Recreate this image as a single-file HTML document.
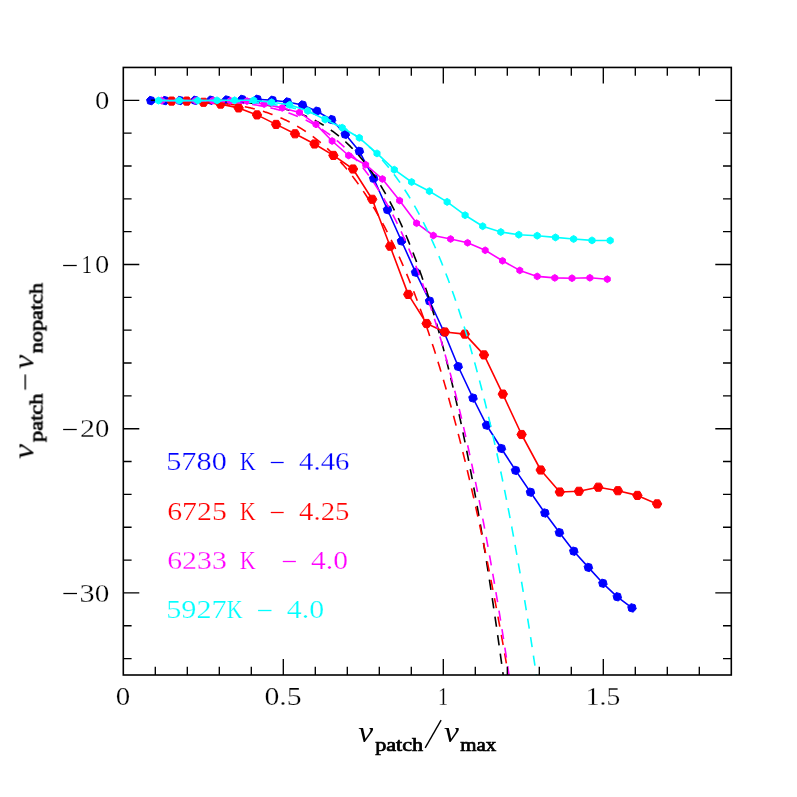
<!DOCTYPE html>
<html><head><meta charset="utf-8"><title>plot</title>
<style>
html,body{margin:0;padding:0;background:#fff;}
body{width:797px;height:797px;overflow:hidden;}
svg{display:block;}
text{font-family:"Liberation Serif",serif;}
.sans{font-family:"Liberation Sans",sans-serif;}
</style></head><body>
<svg width="797" height="797" viewBox="0 0 797 797">
<rect x="0" y="0" width="797" height="797" fill="#fff"/>
<defs><clipPath id="clip"><rect x="123.30" y="67.45" width="608.00" height="607.55"/></clipPath></defs>
<g clip-path="url(#clip)">
<polyline fill="none" stroke="#0000ff" stroke-width="1.60" stroke-linejoin="round" points="150.8,100.6 165.0,100.6 179.9,100.5 195.0,100.3 210.8,100.2 226.6,100.0 242.0,99.4 257.3,99.3 272.4,100.3 287.4,102.0 302.5,105.0 316.8,111.2 331.6,119.6 345.3,134.3 359.4,151.3 373.7,178.5 387.5,209.7 401.5,241.0 415.6,272.3 429.6,301.0 444.0,332.0 458.2,366.5 473.0,398.0 486.6,425.2 501.4,448.5 515.6,470.4 530.5,492.2 544.9,513.0 559.4,532.6 573.8,551.2 588.4,567.4 602.9,583.3 617.3,596.8 632.0,607.9"/>
<polygon fill="#0000ff" stroke="#0000ff" stroke-width="1" stroke-linejoin="round" points="155.05,101.74 151.94,104.85 147.69,103.71 146.55,99.46 149.66,96.35 153.91,97.49"/>
<polygon fill="#0000ff" stroke="#0000ff" stroke-width="1" stroke-linejoin="round" points="169.25,101.74 166.14,104.85 161.89,103.71 160.75,99.46 163.86,96.35 168.11,97.49"/>
<polygon fill="#0000ff" stroke="#0000ff" stroke-width="1" stroke-linejoin="round" points="184.15,101.64 181.04,104.75 176.79,103.61 175.65,99.36 178.76,96.25 183.01,97.39"/>
<polygon fill="#0000ff" stroke="#0000ff" stroke-width="1" stroke-linejoin="round" points="199.25,101.44 196.14,104.55 191.89,103.41 190.75,99.16 193.86,96.05 198.11,97.19"/>
<polygon fill="#0000ff" stroke="#0000ff" stroke-width="1" stroke-linejoin="round" points="215.05,101.34 211.94,104.45 207.69,103.31 206.55,99.06 209.66,95.95 213.91,97.09"/>
<polygon fill="#0000ff" stroke="#0000ff" stroke-width="1" stroke-linejoin="round" points="230.85,101.14 227.74,104.25 223.49,103.11 222.35,98.86 225.46,95.75 229.71,96.89"/>
<polygon fill="#0000ff" stroke="#0000ff" stroke-width="1" stroke-linejoin="round" points="246.25,100.54 243.14,103.65 238.89,102.51 237.75,98.26 240.86,95.15 245.11,96.29"/>
<polygon fill="#0000ff" stroke="#0000ff" stroke-width="1" stroke-linejoin="round" points="261.55,100.44 258.44,103.55 254.19,102.41 253.05,98.16 256.16,95.05 260.41,96.19"/>
<polygon fill="#0000ff" stroke="#0000ff" stroke-width="1" stroke-linejoin="round" points="276.65,101.44 273.54,104.55 269.29,103.41 268.15,99.16 271.26,96.05 275.51,97.19"/>
<polygon fill="#0000ff" stroke="#0000ff" stroke-width="1" stroke-linejoin="round" points="291.65,103.14 288.54,106.25 284.29,105.11 283.15,100.86 286.26,97.75 290.51,98.89"/>
<polygon fill="#0000ff" stroke="#0000ff" stroke-width="1" stroke-linejoin="round" points="306.75,106.14 303.64,109.25 299.39,108.11 298.25,103.86 301.36,100.75 305.61,101.89"/>
<polygon fill="#0000ff" stroke="#0000ff" stroke-width="1" stroke-linejoin="round" points="321.05,112.34 317.94,115.45 313.69,114.31 312.55,110.06 315.66,106.95 319.91,108.09"/>
<polygon fill="#0000ff" stroke="#0000ff" stroke-width="1" stroke-linejoin="round" points="335.85,120.74 332.74,123.85 328.49,122.71 327.35,118.46 330.46,115.35 334.71,116.49"/>
<polygon fill="#0000ff" stroke="#0000ff" stroke-width="1" stroke-linejoin="round" points="349.55,135.44 346.44,138.55 342.19,137.41 341.05,133.16 344.16,130.05 348.41,131.19"/>
<polygon fill="#0000ff" stroke="#0000ff" stroke-width="1" stroke-linejoin="round" points="363.65,152.44 360.54,155.55 356.29,154.41 355.15,150.16 358.26,147.05 362.51,148.19"/>
<polygon fill="#0000ff" stroke="#0000ff" stroke-width="1" stroke-linejoin="round" points="377.95,179.64 374.84,182.75 370.59,181.61 369.45,177.36 372.56,174.25 376.81,175.39"/>
<polygon fill="#0000ff" stroke="#0000ff" stroke-width="1" stroke-linejoin="round" points="391.75,210.84 388.64,213.95 384.39,212.81 383.25,208.56 386.36,205.45 390.61,206.59"/>
<polygon fill="#0000ff" stroke="#0000ff" stroke-width="1" stroke-linejoin="round" points="405.75,242.14 402.64,245.25 398.39,244.11 397.25,239.86 400.36,236.75 404.61,237.89"/>
<polygon fill="#0000ff" stroke="#0000ff" stroke-width="1" stroke-linejoin="round" points="419.85,273.44 416.74,276.55 412.49,275.41 411.35,271.16 414.46,268.05 418.71,269.19"/>
<polygon fill="#0000ff" stroke="#0000ff" stroke-width="1" stroke-linejoin="round" points="433.85,302.14 430.74,305.25 426.49,304.11 425.35,299.86 428.46,296.75 432.71,297.89"/>
<polygon fill="#0000ff" stroke="#0000ff" stroke-width="1" stroke-linejoin="round" points="448.25,333.14 445.14,336.25 440.89,335.11 439.75,330.86 442.86,327.75 447.11,328.89"/>
<polygon fill="#0000ff" stroke="#0000ff" stroke-width="1" stroke-linejoin="round" points="462.45,367.64 459.34,370.75 455.09,369.61 453.95,365.36 457.06,362.25 461.31,363.39"/>
<polygon fill="#0000ff" stroke="#0000ff" stroke-width="1" stroke-linejoin="round" points="477.25,399.14 474.14,402.25 469.89,401.11 468.75,396.86 471.86,393.75 476.11,394.89"/>
<polygon fill="#0000ff" stroke="#0000ff" stroke-width="1" stroke-linejoin="round" points="490.85,426.34 487.74,429.45 483.49,428.31 482.35,424.06 485.46,420.95 489.71,422.09"/>
<polygon fill="#0000ff" stroke="#0000ff" stroke-width="1" stroke-linejoin="round" points="505.65,449.64 502.54,452.75 498.29,451.61 497.15,447.36 500.26,444.25 504.51,445.39"/>
<polygon fill="#0000ff" stroke="#0000ff" stroke-width="1" stroke-linejoin="round" points="519.85,471.54 516.74,474.65 512.49,473.51 511.35,469.26 514.46,466.15 518.71,467.29"/>
<polygon fill="#0000ff" stroke="#0000ff" stroke-width="1" stroke-linejoin="round" points="534.75,493.34 531.64,496.45 527.39,495.31 526.25,491.06 529.36,487.95 533.61,489.09"/>
<polygon fill="#0000ff" stroke="#0000ff" stroke-width="1" stroke-linejoin="round" points="549.15,514.14 546.04,517.25 541.79,516.11 540.65,511.86 543.76,508.75 548.01,509.89"/>
<polygon fill="#0000ff" stroke="#0000ff" stroke-width="1" stroke-linejoin="round" points="563.65,533.74 560.54,536.85 556.29,535.71 555.15,531.46 558.26,528.35 562.51,529.49"/>
<polygon fill="#0000ff" stroke="#0000ff" stroke-width="1" stroke-linejoin="round" points="578.05,552.34 574.94,555.45 570.69,554.31 569.55,550.06 572.66,546.95 576.91,548.09"/>
<polygon fill="#0000ff" stroke="#0000ff" stroke-width="1" stroke-linejoin="round" points="592.65,568.54 589.54,571.65 585.29,570.51 584.15,566.26 587.26,563.15 591.51,564.29"/>
<polygon fill="#0000ff" stroke="#0000ff" stroke-width="1" stroke-linejoin="round" points="607.15,584.44 604.04,587.55 599.79,586.41 598.65,582.16 601.76,579.05 606.01,580.19"/>
<polygon fill="#0000ff" stroke="#0000ff" stroke-width="1" stroke-linejoin="round" points="621.55,597.94 618.44,601.05 614.19,599.91 613.05,595.66 616.16,592.55 620.41,593.69"/>
<polygon fill="#0000ff" stroke="#0000ff" stroke-width="1" stroke-linejoin="round" points="636.25,609.04 633.14,612.15 628.89,611.01 627.75,606.76 630.86,603.65 635.11,604.79"/>
<polyline fill="none" stroke="#000" stroke-width="1.60" stroke-dasharray="10.2 8.5" stroke-dashoffset="1.54" points="150.80,100.30 151.44,100.30 152.08,100.30 152.72,100.30 153.36,100.30 154.00,100.30 154.64,100.30 155.28,100.30 155.92,100.30 156.56,100.30 157.20,100.30 157.84,100.30 158.48,100.30 159.12,100.31 159.76,100.31 160.40,100.31 161.04,100.31 161.68,100.31 162.32,100.31 162.96,100.31 163.60,100.31 164.24,100.31 164.88,100.31 165.52,100.31 166.16,100.31 166.80,100.31 167.44,100.32 168.08,100.32 168.72,100.32 169.36,100.32 170.00,100.32 170.64,100.32 171.28,100.32 171.92,100.32 172.56,100.33 173.20,100.33 173.84,100.33 174.48,100.33 175.12,100.33 175.76,100.34 176.40,100.34 177.04,100.34 177.68,100.34 178.32,100.34 178.96,100.35 179.60,100.35 180.24,100.35 180.88,100.36 181.52,100.36 182.16,100.36 182.80,100.37 183.44,100.37 184.08,100.37 184.72,100.38 185.36,100.38 186.00,100.38 186.64,100.39 187.28,100.39 187.92,100.40 188.56,100.40 189.20,100.41 189.84,100.41 190.48,100.42 191.12,100.42 191.76,100.43 192.40,100.44 193.04,100.44 193.68,100.45 194.32,100.46 194.96,100.46 195.60,100.47 196.24,100.48 196.88,100.48 197.52,100.49 198.16,100.50 198.80,100.51 199.44,100.52 200.08,100.53 200.72,100.54 201.36,100.55 202.00,100.56 202.64,100.57 203.28,100.58 203.92,100.59 204.56,100.60 205.20,100.61 205.84,100.62 206.48,100.64 207.12,100.65 207.76,100.66 208.40,100.68 209.04,100.69 209.68,100.71 210.32,100.72 210.96,100.74 211.60,100.75 212.24,100.77 212.88,100.78 213.52,100.80 214.16,100.82 214.80,100.84 215.44,100.86 216.08,100.87 216.72,100.89 217.36,100.91 218.00,100.94 218.64,100.96 219.28,100.98 219.92,101.00 220.56,101.02 221.20,101.05 221.84,101.07 222.48,101.10 223.12,101.12 223.76,101.15 224.40,101.18 225.04,101.20 225.68,101.23 226.32,101.26 226.96,101.29 227.60,101.32 228.24,101.35 228.88,101.38 229.52,101.42 230.16,101.45 230.80,101.48 231.44,101.52 232.08,101.55 232.72,101.59 233.36,101.63 234.00,101.67 234.64,101.71 235.28,101.75 235.92,101.79 236.56,101.83 237.20,101.87 237.84,101.91 238.48,101.96 239.12,102.00 239.76,102.05 240.40,102.10 241.04,102.15 241.68,102.20 242.32,102.25 242.96,102.30 243.60,102.35 244.24,102.41 244.88,102.46 245.52,102.52 246.16,102.58 246.80,102.63 247.44,102.69 248.08,102.76 248.72,102.82 249.36,102.88 250.00,102.95 250.64,103.01 251.28,103.08 251.92,103.15 252.56,103.22 253.20,103.29 253.84,103.36 254.48,103.44 255.12,103.51 255.76,103.59 256.40,103.67 257.04,103.75 257.68,103.83 258.32,103.91 258.96,104.00 259.60,104.09 260.24,104.17 260.88,104.26 261.52,104.35 262.16,104.45 262.80,104.54 263.44,104.64 264.08,104.74 264.72,104.84 265.36,104.94 266.00,105.04 266.64,105.15 267.28,105.25 267.92,105.36 268.56,105.47 269.20,105.58 269.84,105.70 270.48,105.82 271.12,105.93 271.76,106.05 272.40,106.18 273.04,106.30 273.68,106.43 274.32,106.56 274.96,106.69 275.60,106.82 276.24,106.96 276.88,107.09 277.52,107.23 278.16,107.38 278.80,107.52 279.44,107.67 280.08,107.82 280.72,107.97 281.36,108.12 282.00,108.28 282.64,108.44 283.28,108.60 283.92,108.76 284.56,108.93 285.20,109.10 285.84,109.27 286.48,109.44 287.12,109.62 287.76,109.80 288.40,109.98 289.04,110.17 289.68,110.36 290.32,110.55 290.96,110.74 291.60,110.94 292.24,111.14 292.88,111.34 293.52,111.55 294.16,111.76 294.80,111.97 295.44,112.18 296.08,112.40 296.72,112.62 297.36,112.85 298.00,113.07 298.64,113.31 299.28,113.54 299.92,113.78 300.56,114.02 301.20,114.26 301.84,114.51 302.48,114.76 303.12,115.02 303.76,115.28 304.40,115.54 305.04,115.80 305.68,116.07 306.32,116.35 306.96,116.62 307.60,116.90 308.24,117.19 308.88,117.48 309.52,117.77 310.16,118.06 310.80,118.36 311.44,118.67 312.08,118.98 312.72,119.29 313.36,119.61 314.00,119.93 314.64,120.25 315.28,120.58 315.92,120.91 316.56,121.25 317.20,121.59 317.84,121.94 318.48,122.29 319.12,122.65 319.76,123.01 320.40,123.37 321.04,123.74 321.68,124.12 322.32,124.49 322.96,124.88 323.60,125.27 324.24,125.66 324.88,126.06 325.52,126.46 326.16,126.87 326.80,127.28 327.44,127.70 328.08,128.12 328.72,128.55 329.36,128.99 330.00,129.43 330.64,129.87 331.28,130.32 331.92,130.78 332.56,131.24 333.20,131.70 333.84,132.18 334.48,132.65 335.12,133.14 335.76,133.63 336.40,134.12 337.04,134.62 337.68,135.13 338.32,135.64 338.96,136.16 339.60,136.68 340.24,137.21 340.88,137.75 341.52,138.29 342.16,138.84 342.80,139.40 343.44,139.96 344.08,140.53 344.72,141.10 345.36,141.68 346.00,142.27 346.64,142.86 347.28,143.47 347.92,144.07 348.56,144.69 349.20,145.31 349.84,145.94 350.48,146.57 351.12,147.22 351.76,147.86 352.40,148.52 353.04,149.18 353.68,149.86 354.32,150.53 354.96,151.22 355.60,151.91 356.24,152.61 356.88,153.32 357.52,154.04 358.16,154.76 358.80,155.49 359.44,156.23 360.08,156.98 360.72,157.73 361.36,158.49 362.00,159.26 362.64,160.04 363.28,160.83 363.92,161.63 364.56,162.43 365.20,163.24 365.84,164.06 366.48,164.89 367.12,165.73 367.76,166.57 368.40,167.43 369.04,168.29 369.68,169.16 370.32,170.04 370.96,170.93 371.60,171.83 372.24,172.74 372.88,173.66 373.52,174.58 374.16,175.52 374.80,176.46 375.44,177.42 376.08,178.38 376.72,179.36 377.36,180.34 378.00,181.33 378.64,182.33 379.28,183.35 379.92,184.37 380.56,185.40 381.20,186.44 381.84,187.50 382.48,188.56 383.12,189.63 383.76,190.72 384.40,191.81 385.04,192.91 385.68,194.03 386.32,195.15 386.96,196.29 387.60,197.44 388.24,198.60 388.88,199.77 389.52,200.95 390.16,202.14 390.80,203.34 391.44,204.55 392.08,205.78 392.72,207.01 393.36,208.26 394.00,209.52 394.64,210.79 395.28,212.08 395.92,213.37 396.56,214.68 397.20,216.00 397.84,217.33 398.48,218.67 399.12,220.02 399.76,221.39 400.40,222.77 401.04,224.16 401.68,225.57 402.32,226.99 402.96,228.42 403.60,229.86 404.24,231.32 404.88,232.78 405.52,234.27 406.16,235.76 406.80,237.27 407.44,238.79 408.08,240.33 408.72,241.88 409.36,243.44 410.00,245.01 410.64,246.60 411.28,248.21 411.92,249.83 412.56,251.46 413.20,253.10 413.84,254.76 414.48,256.44 415.12,258.13 415.76,259.83 416.40,261.55 417.04,263.28 417.68,265.03 418.32,266.79 418.96,268.57 419.60,270.36 420.24,272.17 420.88,273.99 421.52,275.83 422.16,277.68 422.80,279.55 423.44,281.43 424.08,283.34 424.72,285.25 425.36,287.18 426.00,289.13 426.64,291.10 427.28,293.08 427.92,295.07 428.56,297.09 429.20,299.12 429.84,301.16 430.48,303.23 431.12,305.31 431.76,307.40 432.40,309.52 433.04,311.65 433.68,313.80 434.32,315.96 434.96,318.15 435.60,320.35 436.24,322.57 436.88,324.80 437.52,327.06 438.16,329.33 438.80,331.62 439.44,333.93 440.08,336.25 440.72,338.60 441.36,340.96 442.00,343.35 442.64,345.75 443.28,348.17 443.92,350.60 444.56,353.06 445.20,355.54 445.84,358.04 446.48,360.55 447.12,363.09 447.76,365.64 448.40,368.22 449.04,370.81 449.68,373.42 450.32,376.06 450.96,378.71 451.60,381.39 452.24,384.08 452.88,386.80 453.52,389.54 454.16,392.29 454.80,395.07 455.44,397.87 456.08,400.69 456.72,403.53 457.36,406.39 458.00,409.28 458.64,412.18 459.28,415.11 459.92,418.06 460.56,421.03 461.20,424.03 461.84,427.04 462.48,430.08 463.12,433.14 463.76,436.22 464.40,439.33 465.04,442.46 465.68,445.61 466.32,448.78 466.96,451.98 467.60,455.20 468.24,458.44 468.88,461.71 469.52,465.00 470.16,468.32 470.80,471.66 471.44,475.02 472.08,478.41 472.72,481.82 473.36,485.26 474.00,488.72 474.64,492.20 475.28,495.72 475.92,499.25 476.56,502.81 477.20,506.40 477.84,510.01 478.48,513.65 479.12,517.31 479.76,521.00 480.40,524.71 481.04,528.45 481.68,532.22 482.32,536.01 482.96,539.83 483.60,543.67 484.24,547.55 484.88,551.45 485.52,555.37 486.16,559.33 486.80,563.31 487.44,567.31 488.08,571.35 488.72,575.41 489.36,579.51 490.00,583.62 490.64,587.77 491.28,591.95 491.92,596.15 492.56,600.38 493.20,604.65 493.84,608.94 494.48,613.26 495.12,617.60 495.76,621.98 496.40,626.39 497.04,630.83 497.68,635.29 498.32,639.79 498.96,644.31 499.60,648.87 500.24,653.46 500.88,658.08 501.52,662.72 502.16,667.40 502.80,672.11 503.44,676.85 504.08,681.62 504.72,686.43 505.36,691.26 506.00,696.13 506.64,701.03 507.28,705.96 507.92,710.92"/>
<polyline fill="none" stroke="#ff0000" stroke-width="1.60" stroke-linejoin="round" points="171.6,101.1 186.7,101.1 203.5,102.3 220.6,104.1 238.6,107.9 257.0,114.9 276.1,124.4 295.0,133.8 314.5,144.0 333.4,155.4 353.0,169.0 372.2,199.3 390.1,246.2 408.2,294.4 426.6,323.5 444.9,332.0 464.8,334.1 484.0,354.9 502.8,394.1 521.6,434.5 540.7,470.0 559.8,492.0 578.9,491.3 598.3,487.2 617.9,490.7 637.4,495.4 657.1,503.9"/>
<polygon fill="#ff0000" stroke="#ff0000" stroke-width="1" stroke-linejoin="round" points="176.30,101.10 173.95,105.17 169.25,105.17 166.90,101.10 169.25,97.03 173.95,97.03"/>
<polygon fill="#ff0000" stroke="#ff0000" stroke-width="1" stroke-linejoin="round" points="191.40,101.10 189.05,105.17 184.35,105.17 182.00,101.10 184.35,97.03 189.05,97.03"/>
<polygon fill="#ff0000" stroke="#ff0000" stroke-width="1" stroke-linejoin="round" points="208.20,102.30 205.85,106.37 201.15,106.37 198.80,102.30 201.15,98.23 205.85,98.23"/>
<polygon fill="#ff0000" stroke="#ff0000" stroke-width="1" stroke-linejoin="round" points="225.30,104.10 222.95,108.17 218.25,108.17 215.90,104.10 218.25,100.03 222.95,100.03"/>
<polygon fill="#ff0000" stroke="#ff0000" stroke-width="1" stroke-linejoin="round" points="243.30,107.90 240.95,111.97 236.25,111.97 233.90,107.90 236.25,103.83 240.95,103.83"/>
<polygon fill="#ff0000" stroke="#ff0000" stroke-width="1" stroke-linejoin="round" points="261.70,114.90 259.35,118.97 254.65,118.97 252.30,114.90 254.65,110.83 259.35,110.83"/>
<polygon fill="#ff0000" stroke="#ff0000" stroke-width="1" stroke-linejoin="round" points="280.80,124.40 278.45,128.47 273.75,128.47 271.40,124.40 273.75,120.33 278.45,120.33"/>
<polygon fill="#ff0000" stroke="#ff0000" stroke-width="1" stroke-linejoin="round" points="299.70,133.80 297.35,137.87 292.65,137.87 290.30,133.80 292.65,129.73 297.35,129.73"/>
<polygon fill="#ff0000" stroke="#ff0000" stroke-width="1" stroke-linejoin="round" points="319.20,144.00 316.85,148.07 312.15,148.07 309.80,144.00 312.15,139.93 316.85,139.93"/>
<polygon fill="#ff0000" stroke="#ff0000" stroke-width="1" stroke-linejoin="round" points="338.10,155.40 335.75,159.47 331.05,159.47 328.70,155.40 331.05,151.33 335.75,151.33"/>
<polygon fill="#ff0000" stroke="#ff0000" stroke-width="1" stroke-linejoin="round" points="357.70,169.00 355.35,173.07 350.65,173.07 348.30,169.00 350.65,164.93 355.35,164.93"/>
<polygon fill="#ff0000" stroke="#ff0000" stroke-width="1" stroke-linejoin="round" points="376.90,199.30 374.55,203.37 369.85,203.37 367.50,199.30 369.85,195.23 374.55,195.23"/>
<polygon fill="#ff0000" stroke="#ff0000" stroke-width="1" stroke-linejoin="round" points="394.80,246.20 392.45,250.27 387.75,250.27 385.40,246.20 387.75,242.13 392.45,242.13"/>
<polygon fill="#ff0000" stroke="#ff0000" stroke-width="1" stroke-linejoin="round" points="412.90,294.40 410.55,298.47 405.85,298.47 403.50,294.40 405.85,290.33 410.55,290.33"/>
<polygon fill="#ff0000" stroke="#ff0000" stroke-width="1" stroke-linejoin="round" points="431.30,323.50 428.95,327.57 424.25,327.57 421.90,323.50 424.25,319.43 428.95,319.43"/>
<polygon fill="#ff0000" stroke="#ff0000" stroke-width="1" stroke-linejoin="round" points="449.60,332.00 447.25,336.07 442.55,336.07 440.20,332.00 442.55,327.93 447.25,327.93"/>
<polygon fill="#ff0000" stroke="#ff0000" stroke-width="1" stroke-linejoin="round" points="469.50,334.10 467.15,338.17 462.45,338.17 460.10,334.10 462.45,330.03 467.15,330.03"/>
<polygon fill="#ff0000" stroke="#ff0000" stroke-width="1" stroke-linejoin="round" points="488.70,354.90 486.35,358.97 481.65,358.97 479.30,354.90 481.65,350.83 486.35,350.83"/>
<polygon fill="#ff0000" stroke="#ff0000" stroke-width="1" stroke-linejoin="round" points="507.50,394.10 505.15,398.17 500.45,398.17 498.10,394.10 500.45,390.03 505.15,390.03"/>
<polygon fill="#ff0000" stroke="#ff0000" stroke-width="1" stroke-linejoin="round" points="526.30,434.50 523.95,438.57 519.25,438.57 516.90,434.50 519.25,430.43 523.95,430.43"/>
<polygon fill="#ff0000" stroke="#ff0000" stroke-width="1" stroke-linejoin="round" points="545.40,470.00 543.05,474.07 538.35,474.07 536.00,470.00 538.35,465.93 543.05,465.93"/>
<polygon fill="#ff0000" stroke="#ff0000" stroke-width="1" stroke-linejoin="round" points="564.50,492.00 562.15,496.07 557.45,496.07 555.10,492.00 557.45,487.93 562.15,487.93"/>
<polygon fill="#ff0000" stroke="#ff0000" stroke-width="1" stroke-linejoin="round" points="583.60,491.30 581.25,495.37 576.55,495.37 574.20,491.30 576.55,487.23 581.25,487.23"/>
<polygon fill="#ff0000" stroke="#ff0000" stroke-width="1" stroke-linejoin="round" points="603.00,487.20 600.65,491.27 595.95,491.27 593.60,487.20 595.95,483.13 600.65,483.13"/>
<polygon fill="#ff0000" stroke="#ff0000" stroke-width="1" stroke-linejoin="round" points="622.60,490.70 620.25,494.77 615.55,494.77 613.20,490.70 615.55,486.63 620.25,486.63"/>
<polygon fill="#ff0000" stroke="#ff0000" stroke-width="1" stroke-linejoin="round" points="642.10,495.40 639.75,499.47 635.05,499.47 632.70,495.40 635.05,491.33 639.75,491.33"/>
<polygon fill="#ff0000" stroke="#ff0000" stroke-width="1" stroke-linejoin="round" points="661.80,503.90 659.45,507.97 654.75,507.97 652.40,503.90 654.75,499.83 659.45,499.83"/>
<polyline fill="none" stroke="#ff0000" stroke-width="1.60" stroke-dasharray="10.2 8.5" stroke-dashoffset="1.21" points="171.60,100.48 172.24,100.48 172.88,100.49 173.52,100.50 174.16,100.51 174.80,100.52 175.44,100.54 176.08,100.55 176.72,100.56 177.36,100.57 178.00,100.58 178.64,100.60 179.28,100.61 179.92,100.63 180.56,100.64 181.20,100.65 181.84,100.67 182.48,100.69 183.12,100.70 183.76,100.72 184.40,100.74 185.04,100.76 185.68,100.77 186.32,100.79 186.96,100.81 187.60,100.83 188.24,100.86 188.88,100.88 189.52,100.90 190.16,100.92 190.80,100.95 191.44,100.97 192.08,100.99 192.72,101.02 193.36,101.05 194.00,101.07 194.64,101.10 195.28,101.13 195.92,101.16 196.56,101.19 197.20,101.22 197.84,101.25 198.48,101.28 199.12,101.32 199.76,101.35 200.40,101.38 201.04,101.42 201.68,101.46 202.32,101.49 202.96,101.53 203.60,101.57 204.24,101.61 204.88,101.65 205.52,101.69 206.16,101.74 206.80,101.78 207.44,101.82 208.08,101.87 208.72,101.92 209.36,101.97 210.00,102.01 210.64,102.06 211.28,102.11 211.92,102.17 212.56,102.22 213.20,102.27 213.84,102.33 214.48,102.39 215.12,102.44 215.76,102.50 216.40,102.56 217.04,102.62 217.68,102.69 218.32,102.75 218.96,102.82 219.60,102.88 220.24,102.95 220.88,103.02 221.52,103.09 222.16,103.16 222.80,103.23 223.44,103.31 224.08,103.38 224.72,103.46 225.36,103.54 226.00,103.62 226.64,103.70 227.28,103.78 227.92,103.87 228.56,103.95 229.20,104.04 229.84,104.13 230.48,104.22 231.12,104.31 231.76,104.40 232.40,104.50 233.04,104.60 233.68,104.70 234.32,104.80 234.96,104.90 235.60,105.00 236.24,105.11 236.88,105.21 237.52,105.32 238.16,105.43 238.80,105.55 239.44,105.66 240.08,105.78 240.72,105.89 241.36,106.01 242.00,106.14 242.64,106.26 243.28,106.39 243.92,106.51 244.56,106.64 245.20,106.77 245.84,106.91 246.48,107.04 247.12,107.18 247.76,107.32 248.40,107.46 249.04,107.61 249.68,107.75 250.32,107.90 250.96,108.05 251.60,108.20 252.24,108.36 252.88,108.52 253.52,108.67 254.16,108.84 254.80,109.00 255.44,109.17 256.08,109.34 256.72,109.51 257.36,109.68 258.00,109.86 258.64,110.03 259.28,110.21 259.92,110.40 260.56,110.58 261.20,110.77 261.84,110.96 262.48,111.16 263.12,111.35 263.76,111.55 264.40,111.75 265.04,111.96 265.68,112.16 266.32,112.37 266.96,112.58 267.60,112.80 268.24,113.02 268.88,113.24 269.52,113.46 270.16,113.69 270.80,113.92 271.44,114.15 272.08,114.38 272.72,114.62 273.36,114.86 274.00,115.10 274.64,115.35 275.28,115.60 275.92,115.85 276.56,116.11 277.20,116.37 277.84,116.63 278.48,116.90 279.12,117.16 279.76,117.44 280.40,117.71 281.04,117.99 281.68,118.27 282.32,118.56 282.96,118.84 283.60,119.14 284.24,119.43 284.88,119.73 285.52,120.03 286.16,120.34 286.80,120.64 287.44,120.96 288.08,121.27 288.72,121.59 289.36,121.92 290.00,122.24 290.64,122.57 291.28,122.91 291.92,123.24 292.56,123.59 293.20,123.93 293.84,124.28 294.48,124.63 295.12,124.99 295.76,125.35 296.40,125.72 297.04,126.08 297.68,126.46 298.32,126.83 298.96,127.21 299.60,127.60 300.24,127.99 300.88,128.38 301.52,128.78 302.16,129.18 302.80,129.58 303.44,129.99 304.08,130.40 304.72,130.82 305.36,131.24 306.00,131.67 306.64,132.10 307.28,132.54 307.92,132.98 308.56,133.42 309.20,133.87 309.84,134.32 310.48,134.78 311.12,135.24 311.76,135.71 312.40,136.18 313.04,136.65 313.68,137.13 314.32,137.62 314.96,138.11 315.60,138.61 316.24,139.10 316.88,139.61 317.52,140.12 318.16,140.63 318.80,141.15 319.44,141.68 320.08,142.20 320.72,142.74 321.36,143.28 322.00,143.82 322.64,144.37 323.28,144.93 323.92,145.49 324.56,146.05 325.20,146.62 325.84,147.20 326.48,147.78 327.12,148.36 327.76,148.95 328.40,149.55 329.04,150.15 329.68,150.76 330.32,151.37 330.96,151.99 331.60,152.61 332.24,153.24 332.88,153.88 333.52,154.52 334.16,155.17 334.80,155.82 335.44,156.48 336.08,157.14 336.72,157.81 337.36,158.49 338.00,159.17 338.64,159.86 339.28,160.55 339.92,161.25 340.56,161.95 341.20,162.66 341.84,163.38 342.48,164.11 343.12,164.84 343.76,165.57 344.40,166.31 345.04,167.06 345.68,167.82 346.32,168.58 346.96,169.34 347.60,170.12 348.24,170.90 348.88,171.69 349.52,172.48 350.16,173.28 350.80,174.08 351.44,174.90 352.08,175.72 352.72,176.54 353.36,177.38 354.00,178.22 354.64,179.06 355.28,179.91 355.92,180.77 356.56,181.64 357.20,182.52 357.84,183.40 358.48,184.28 359.12,185.18 359.76,186.08 360.40,186.99 361.04,187.91 361.68,188.83 362.32,189.76 362.96,190.70 363.60,191.64 364.24,192.60 364.88,193.56 365.52,194.52 366.16,195.50 366.80,196.48 367.44,197.47 368.08,198.47 368.72,199.47 369.36,200.48 370.00,201.50 370.64,202.53 371.28,203.57 371.92,204.61 372.56,205.66 373.20,206.72 373.84,207.79 374.48,208.86 375.12,209.95 375.76,211.04 376.40,212.13 377.04,213.24 377.68,214.36 378.32,215.48 378.96,216.61 379.60,217.75 380.24,218.90 380.88,220.06 381.52,221.22 382.16,222.39 382.80,223.57 383.44,224.76 384.08,225.96 384.72,227.17 385.36,228.39 386.00,229.61 386.64,230.84 387.28,232.08 387.92,233.33 388.56,234.59 389.20,235.86 389.84,237.14 390.48,238.43 391.12,239.72 391.76,241.02 392.40,242.34 393.04,243.66 393.68,244.99 394.32,246.33 394.96,247.68 395.60,249.04 396.24,250.41 396.88,251.78 397.52,253.17 398.16,254.57 398.80,255.97 399.44,257.39 400.08,258.81 400.72,260.25 401.36,261.69 402.00,263.14 402.64,264.61 403.28,266.08 403.92,267.56 404.56,269.06 405.20,270.56 405.84,272.07 406.48,273.59 407.12,275.13 407.76,276.67 408.40,278.22 409.04,279.78 409.68,281.36 410.32,282.94 410.96,284.53 411.60,286.14 412.24,287.75 412.88,289.38 413.52,291.01 414.16,292.66 414.80,294.31 415.44,295.98 416.08,297.66 416.72,299.34 417.36,301.04 418.00,302.75 418.64,304.47 419.28,306.20 419.92,307.94 420.56,309.70 421.20,311.46 421.84,313.23 422.48,315.02 423.12,316.82 423.76,318.63 424.40,320.45 425.04,322.28 425.68,324.12 426.32,325.97 426.96,327.84 427.60,329.71 428.24,331.60 428.88,333.50 429.52,335.41 430.16,337.33 430.80,339.26 431.44,341.21 432.08,343.17 432.72,345.14 433.36,347.12 434.00,349.11 434.64,351.11 435.28,353.13 435.92,355.16 436.56,357.20 437.20,359.25 437.84,361.32 438.48,363.40 439.12,365.49 439.76,367.59 440.40,369.70 441.04,371.83 441.68,373.97 442.32,376.12 442.96,378.29 443.60,380.46 444.24,382.65 444.88,384.85 445.52,387.07 446.16,389.30 446.80,391.54 447.44,393.79 448.08,396.06 448.72,398.34 449.36,400.63 450.00,402.93 450.64,405.25 451.28,407.59 451.92,409.93 452.56,412.29 453.20,414.66 453.84,417.05 454.48,419.44 455.12,421.86 455.76,424.28 456.40,426.72 457.04,429.17 457.68,431.64 458.32,434.12 458.96,436.61 459.60,439.12 460.24,441.64 460.88,444.18 461.52,446.73 462.16,449.29 462.80,451.87 463.44,454.46 464.08,457.07 464.72,459.69 465.36,462.32 466.00,464.97 466.64,467.64 467.28,470.31 467.92,473.00 468.56,475.71 469.20,478.43 469.84,481.17 470.48,483.92 471.12,486.68 471.76,489.46 472.40,492.26 473.04,495.07 473.68,497.89 474.32,500.73 474.96,503.59 475.60,506.46 476.24,509.34 476.88,512.24 477.52,515.16 478.16,518.09 478.80,521.04 479.44,524.00 480.08,526.98 480.72,529.97 481.36,532.98 482.00,536.00 482.64,539.04 483.28,542.10 483.92,545.17 484.56,548.26 485.20,551.36 485.84,554.48 486.48,557.61 487.12,560.76 487.76,563.93 488.40,567.11 489.04,570.31 489.68,573.53 490.32,576.76 490.96,580.01 491.60,583.27 492.24,586.56 492.88,589.85 493.52,593.17 494.16,596.50 494.80,599.85 495.44,603.21 496.08,606.59 496.72,609.99 497.36,613.41 498.00,616.84 498.64,620.29 499.28,623.76 499.92,627.24 500.56,630.74 501.20,634.26 501.84,637.79 502.48,641.35 503.12,644.92 503.76,648.50 504.40,652.11 505.04,655.73 505.68,659.37 506.32,663.03 506.96,666.71 507.60,670.40 508.24,674.11 508.88,677.84 509.52,681.59 510.16,685.36 510.80,689.14 511.44,692.94 512.08,696.76 512.72,700.60 513.36,704.46 514.00,708.33"/>
<polyline fill="none" stroke="#ff00ff" stroke-width="1.60" stroke-linejoin="round" points="161.6,100.6 178.6,100.6 195.6,100.6 212.8,100.6 230.4,100.8 247.0,101.1 264.1,104.1 282.2,107.9 299.5,112.4 316.0,124.4 332.1,141.0 348.6,155.5 365.7,164.7 382.4,179.0 399.6,200.6 416.6,223.2 433.3,235.5 450.6,239.0 467.6,242.8 485.2,250.3 502.5,260.8 519.8,270.4 537.2,276.4 554.8,277.9 572.0,278.2 589.9,277.8 607.3,279.2"/>
<polygon fill="#ff00ff" stroke="#ff00ff" stroke-width="1" stroke-linejoin="round" points="164.54,102.30 161.60,104.00 158.66,102.30 158.66,98.90 161.60,97.20 164.54,98.90"/>
<polygon fill="#ff00ff" stroke="#ff00ff" stroke-width="1" stroke-linejoin="round" points="181.54,102.30 178.60,104.00 175.66,102.30 175.66,98.90 178.60,97.20 181.54,98.90"/>
<polygon fill="#ff00ff" stroke="#ff00ff" stroke-width="1" stroke-linejoin="round" points="198.54,102.30 195.60,104.00 192.66,102.30 192.66,98.90 195.60,97.20 198.54,98.90"/>
<polygon fill="#ff00ff" stroke="#ff00ff" stroke-width="1" stroke-linejoin="round" points="215.74,102.30 212.80,104.00 209.86,102.30 209.86,98.90 212.80,97.20 215.74,98.90"/>
<polygon fill="#ff00ff" stroke="#ff00ff" stroke-width="1" stroke-linejoin="round" points="233.34,102.50 230.40,104.20 227.46,102.50 227.46,99.10 230.40,97.40 233.34,99.10"/>
<polygon fill="#ff00ff" stroke="#ff00ff" stroke-width="1" stroke-linejoin="round" points="249.94,102.80 247.00,104.50 244.06,102.80 244.06,99.40 247.00,97.70 249.94,99.40"/>
<polygon fill="#ff00ff" stroke="#ff00ff" stroke-width="1" stroke-linejoin="round" points="267.04,105.80 264.10,107.50 261.16,105.80 261.16,102.40 264.10,100.70 267.04,102.40"/>
<polygon fill="#ff00ff" stroke="#ff00ff" stroke-width="1" stroke-linejoin="round" points="285.14,109.60 282.20,111.30 279.26,109.60 279.26,106.20 282.20,104.50 285.14,106.20"/>
<polygon fill="#ff00ff" stroke="#ff00ff" stroke-width="1" stroke-linejoin="round" points="302.44,114.10 299.50,115.80 296.56,114.10 296.56,110.70 299.50,109.00 302.44,110.70"/>
<polygon fill="#ff00ff" stroke="#ff00ff" stroke-width="1" stroke-linejoin="round" points="318.94,126.10 316.00,127.80 313.06,126.10 313.06,122.70 316.00,121.00 318.94,122.70"/>
<polygon fill="#ff00ff" stroke="#ff00ff" stroke-width="1" stroke-linejoin="round" points="335.04,142.70 332.10,144.40 329.16,142.70 329.16,139.30 332.10,137.60 335.04,139.30"/>
<polygon fill="#ff00ff" stroke="#ff00ff" stroke-width="1" stroke-linejoin="round" points="351.54,157.20 348.60,158.90 345.66,157.20 345.66,153.80 348.60,152.10 351.54,153.80"/>
<polygon fill="#ff00ff" stroke="#ff00ff" stroke-width="1" stroke-linejoin="round" points="368.64,166.40 365.70,168.10 362.76,166.40 362.76,163.00 365.70,161.30 368.64,163.00"/>
<polygon fill="#ff00ff" stroke="#ff00ff" stroke-width="1" stroke-linejoin="round" points="385.34,180.70 382.40,182.40 379.46,180.70 379.46,177.30 382.40,175.60 385.34,177.30"/>
<polygon fill="#ff00ff" stroke="#ff00ff" stroke-width="1" stroke-linejoin="round" points="402.54,202.30 399.60,204.00 396.66,202.30 396.66,198.90 399.60,197.20 402.54,198.90"/>
<polygon fill="#ff00ff" stroke="#ff00ff" stroke-width="1" stroke-linejoin="round" points="419.54,224.90 416.60,226.60 413.66,224.90 413.66,221.50 416.60,219.80 419.54,221.50"/>
<polygon fill="#ff00ff" stroke="#ff00ff" stroke-width="1" stroke-linejoin="round" points="436.24,237.20 433.30,238.90 430.36,237.20 430.36,233.80 433.30,232.10 436.24,233.80"/>
<polygon fill="#ff00ff" stroke="#ff00ff" stroke-width="1" stroke-linejoin="round" points="453.54,240.70 450.60,242.40 447.66,240.70 447.66,237.30 450.60,235.60 453.54,237.30"/>
<polygon fill="#ff00ff" stroke="#ff00ff" stroke-width="1" stroke-linejoin="round" points="470.54,244.50 467.60,246.20 464.66,244.50 464.66,241.10 467.60,239.40 470.54,241.10"/>
<polygon fill="#ff00ff" stroke="#ff00ff" stroke-width="1" stroke-linejoin="round" points="488.14,252.00 485.20,253.70 482.26,252.00 482.26,248.60 485.20,246.90 488.14,248.60"/>
<polygon fill="#ff00ff" stroke="#ff00ff" stroke-width="1" stroke-linejoin="round" points="505.44,262.50 502.50,264.20 499.56,262.50 499.56,259.10 502.50,257.40 505.44,259.10"/>
<polygon fill="#ff00ff" stroke="#ff00ff" stroke-width="1" stroke-linejoin="round" points="522.74,272.10 519.80,273.80 516.86,272.10 516.86,268.70 519.80,267.00 522.74,268.70"/>
<polygon fill="#ff00ff" stroke="#ff00ff" stroke-width="1" stroke-linejoin="round" points="540.14,278.10 537.20,279.80 534.26,278.10 534.26,274.70 537.20,273.00 540.14,274.70"/>
<polygon fill="#ff00ff" stroke="#ff00ff" stroke-width="1" stroke-linejoin="round" points="557.74,279.60 554.80,281.30 551.86,279.60 551.86,276.20 554.80,274.50 557.74,276.20"/>
<polygon fill="#ff00ff" stroke="#ff00ff" stroke-width="1" stroke-linejoin="round" points="574.94,279.90 572.00,281.60 569.06,279.90 569.06,276.50 572.00,274.80 574.94,276.50"/>
<polygon fill="#ff00ff" stroke="#ff00ff" stroke-width="1" stroke-linejoin="round" points="592.84,279.50 589.90,281.20 586.96,279.50 586.96,276.10 589.90,274.40 592.84,276.10"/>
<polygon fill="#ff00ff" stroke="#ff00ff" stroke-width="1" stroke-linejoin="round" points="610.24,280.90 607.30,282.60 604.36,280.90 604.36,277.50 607.30,275.80 610.24,277.50"/>
<polyline fill="none" stroke="#ff00ff" stroke-width="1.60" stroke-dasharray="10.2 8.5" stroke-dashoffset="2.93" points="161.60,100.32 162.24,100.32 162.88,100.32 163.52,100.32 164.16,100.32 164.80,100.33 165.44,100.33 166.08,100.33 166.72,100.33 167.36,100.33 168.00,100.34 168.64,100.34 169.28,100.34 169.92,100.34 170.56,100.35 171.20,100.35 171.84,100.35 172.48,100.35 173.12,100.36 173.76,100.36 174.40,100.36 175.04,100.37 175.68,100.37 176.32,100.38 176.96,100.38 177.60,100.38 178.24,100.39 178.88,100.39 179.52,100.40 180.16,100.40 180.80,100.41 181.44,100.42 182.08,100.42 182.72,100.43 183.36,100.43 184.00,100.44 184.64,100.45 185.28,100.45 185.92,100.46 186.56,100.47 187.20,100.48 187.84,100.48 188.48,100.49 189.12,100.50 189.76,100.51 190.40,100.52 191.04,100.53 191.68,100.54 192.32,100.55 192.96,100.56 193.60,100.57 194.24,100.58 194.88,100.59 195.52,100.61 196.16,100.62 196.80,100.63 197.44,100.64 198.08,100.66 198.72,100.67 199.36,100.69 200.00,100.70 200.64,100.72 201.28,100.73 201.92,100.75 202.56,100.76 203.20,100.78 203.84,100.80 204.48,100.82 205.12,100.84 205.76,100.85 206.40,100.87 207.04,100.89 207.68,100.92 208.32,100.94 208.96,100.96 209.60,100.98 210.24,101.00 210.88,101.03 211.52,101.05 212.16,101.08 212.80,101.10 213.44,101.13 214.08,101.16 214.72,101.18 215.36,101.21 216.00,101.24 216.64,101.27 217.28,101.30 217.92,101.33 218.56,101.36 219.20,101.39 219.84,101.43 220.48,101.46 221.12,101.50 221.76,101.53 222.40,101.57 223.04,101.61 223.68,101.64 224.32,101.68 224.96,101.72 225.60,101.76 226.24,101.81 226.88,101.85 227.52,101.89 228.16,101.94 228.80,101.98 229.44,102.03 230.08,102.08 230.72,102.12 231.36,102.17 232.00,102.22 232.64,102.28 233.28,102.33 233.92,102.38 234.56,102.44 235.20,102.49 235.84,102.55 236.48,102.61 237.12,102.67 237.76,102.73 238.40,102.79 239.04,102.85 239.68,102.92 240.32,102.98 240.96,103.05 241.60,103.12 242.24,103.19 242.88,103.26 243.52,103.33 244.16,103.40 244.80,103.48 245.44,103.55 246.08,103.63 246.72,103.71 247.36,103.79 248.00,103.87 248.64,103.95 249.28,104.04 249.92,104.12 250.56,104.21 251.20,104.30 251.84,104.39 252.48,104.48 253.12,104.58 253.76,104.67 254.40,104.77 255.04,104.87 255.68,104.97 256.32,105.07 256.96,105.18 257.60,105.28 258.24,105.39 258.88,105.50 259.52,105.61 260.16,105.73 260.80,105.84 261.44,105.96 262.08,106.08 262.72,106.20 263.36,106.32 264.00,106.44 264.64,106.57 265.28,106.70 265.92,106.83 266.56,106.96 267.20,107.10 267.84,107.24 268.48,107.38 269.12,107.52 269.76,107.66 270.40,107.81 271.04,107.95 271.68,108.10 272.32,108.26 272.96,108.41 273.60,108.57 274.24,108.73 274.88,108.89 275.52,109.06 276.16,109.22 276.80,109.39 277.44,109.56 278.08,109.74 278.72,109.92 279.36,110.09 280.00,110.28 280.64,110.46 281.28,110.65 281.92,110.84 282.56,111.03 283.20,111.23 283.84,111.42 284.48,111.63 285.12,111.83 285.76,112.04 286.40,112.25 287.04,112.46 287.68,112.67 288.32,112.89 288.96,113.11 289.60,113.34 290.24,113.56 290.88,113.80 291.52,114.03 292.16,114.27 292.80,114.50 293.44,114.75 294.08,114.99 294.72,115.24 295.36,115.50 296.00,115.75 296.64,116.01 297.28,116.27 297.92,116.54 298.56,116.81 299.20,117.08 299.84,117.36 300.48,117.64 301.12,117.92 301.76,118.21 302.40,118.50 303.04,118.80 303.68,119.09 304.32,119.40 304.96,119.70 305.60,120.01 306.24,120.32 306.88,120.64 307.52,120.96 308.16,121.29 308.80,121.62 309.44,121.95 310.08,122.29 310.72,122.63 311.36,122.97 312.00,123.32 312.64,123.68 313.28,124.03 313.92,124.40 314.56,124.76 315.20,125.13 315.84,125.51 316.48,125.89 317.12,126.27 317.76,126.66 318.40,127.05 319.04,127.45 319.68,127.85 320.32,128.26 320.96,128.67 321.60,129.08 322.24,129.50 322.88,129.93 323.52,130.36 324.16,130.79 324.80,131.23 325.44,131.68 326.08,132.13 326.72,132.58 327.36,133.04 328.00,133.51 328.64,133.97 329.28,134.45 329.92,134.93 330.56,135.42 331.20,135.91 331.84,136.40 332.48,136.90 333.12,137.41 333.76,137.92 334.40,138.44 335.04,138.96 335.68,139.49 336.32,140.03 336.96,140.57 337.60,141.11 338.24,141.66 338.88,142.22 339.52,142.78 340.16,143.35 340.80,143.93 341.44,144.51 342.08,145.09 342.72,145.69 343.36,146.28 344.00,146.89 344.64,147.50 345.28,148.12 345.92,148.74 346.56,149.37 347.20,150.01 347.84,150.65 348.48,151.30 349.12,151.95 349.76,152.62 350.40,153.28 351.04,153.96 351.68,154.64 352.32,155.33 352.96,156.03 353.60,156.73 354.24,157.44 354.88,158.15 355.52,158.88 356.16,159.61 356.80,160.34 357.44,161.09 358.08,161.84 358.72,162.60 359.36,163.36 360.00,164.14 360.64,164.92 361.28,165.70 361.92,166.50 362.56,167.30 363.20,168.11 363.84,168.93 364.48,169.76 365.12,170.59 365.76,171.43 366.40,172.28 367.04,173.14 367.68,174.00 368.32,174.87 368.96,175.75 369.60,176.64 370.24,177.54 370.88,178.44 371.52,179.36 372.16,180.28 372.80,181.21 373.44,182.15 374.08,183.09 374.72,184.05 375.36,185.01 376.00,185.98 376.64,186.96 377.28,187.95 377.92,188.95 378.56,189.96 379.20,190.98 379.84,192.00 380.48,193.03 381.12,194.08 381.76,195.13 382.40,196.19 383.04,197.26 383.68,198.34 384.32,199.43 384.96,200.53 385.60,201.64 386.24,202.75 386.88,203.88 387.52,205.02 388.16,206.16 388.80,207.32 389.44,208.49 390.08,209.66 390.72,210.85 391.36,212.04 392.00,213.25 392.64,214.46 393.28,215.69 393.92,216.93 394.56,218.17 395.20,219.43 395.84,220.70 396.48,221.97 397.12,223.26 397.76,224.56 398.40,225.87 399.04,227.19 399.68,228.52 400.32,229.86 400.96,231.21 401.60,232.58 402.24,233.95 402.88,235.34 403.52,236.73 404.16,238.14 404.80,239.56 405.44,240.99 406.08,242.43 406.72,243.89 407.36,245.35 408.00,246.83 408.64,248.32 409.28,249.82 409.92,251.33 410.56,252.85 411.20,254.39 411.84,255.93 412.48,257.49 413.12,259.06 413.76,260.65 414.40,262.24 415.04,263.85 415.68,265.47 416.32,267.11 416.96,268.75 417.60,270.41 418.24,272.08 418.88,273.77 419.52,275.46 420.16,277.17 420.80,278.89 421.44,280.63 422.08,282.38 422.72,284.14 423.36,285.91 424.00,287.70 424.64,289.50 425.28,291.32 425.92,293.15 426.56,294.99 427.20,296.85 427.84,298.72 428.48,300.60 429.12,302.50 429.76,304.41 430.40,306.33 431.04,308.27 431.68,310.22 432.32,312.19 432.96,314.17 433.60,316.17 434.24,318.18 434.88,320.21 435.52,322.25 436.16,324.30 436.80,326.37 437.44,328.45 438.08,330.55 438.72,332.67 439.36,334.80 440.00,336.94 440.64,339.10 441.28,341.28 441.92,343.47 442.56,345.67 443.20,347.89 443.84,350.13 444.48,352.38 445.12,354.65 445.76,356.94 446.40,359.24 447.04,361.55 447.68,363.88 448.32,366.23 448.96,368.60 449.60,370.98 450.24,373.37 450.88,375.79 451.52,378.22 452.16,380.67 452.80,383.13 453.44,385.61 454.08,388.11 454.72,390.62 455.36,393.15 456.00,395.70 456.64,398.27 457.28,400.85 457.92,403.45 458.56,406.07 459.20,408.70 459.84,411.36 460.48,414.03 461.12,416.72 461.76,419.42 462.40,422.15 463.04,424.89 463.68,427.65 464.32,430.43 464.96,433.23 465.60,436.04 466.24,438.88 466.88,441.73 467.52,444.60 468.16,447.49 468.80,450.40 469.44,453.33 470.08,456.27 470.72,459.24 471.36,462.23 472.00,465.23 472.64,468.25 473.28,471.30 473.92,474.36 474.56,477.44 475.20,480.54 475.84,483.67 476.48,486.81 477.12,489.97 477.76,493.15 478.40,496.35 479.04,499.58 479.68,502.82 480.32,506.08 480.96,509.36 481.60,512.67 482.24,515.99 482.88,519.34 483.52,522.71 484.16,526.09 484.80,529.50 485.44,532.93 486.08,536.38 486.72,539.86 487.36,543.35 488.00,546.87 488.64,550.40 489.28,553.96 489.92,557.54 490.56,561.15 491.20,564.77 491.84,568.42 492.48,572.09 493.12,575.78 493.76,579.49 494.40,583.23 495.04,586.99 495.68,590.77 496.32,594.58 496.96,598.40 497.60,602.25 498.24,606.13 498.88,610.03 499.52,613.95 500.16,617.89 500.80,621.86 501.44,625.85 502.08,629.86 502.72,633.90 503.36,637.96 504.00,642.05 504.64,646.16 505.28,650.29 505.92,654.45 506.56,658.64 507.20,662.84 507.84,667.08 508.48,671.33 509.12,675.62 509.76,679.92 510.40,684.26 511.04,688.61 511.68,692.99 512.32,697.40 512.96,701.84 513.60,706.29 514.24,710.78"/>
<polyline fill="none" stroke="#00ffff" stroke-width="1.60" stroke-linejoin="round" points="158.5,100.6 179.2,100.6 197.7,100.6 217.0,100.4 234.6,100.3 253.7,100.3 271.6,102.3 289.7,104.8 307.8,110.9 325.1,119.5 342.2,127.7 359.3,137.8 377.0,153.4 394.3,169.7 411.6,182.0 429.4,191.2 447.1,201.9 465.1,215.2 482.7,226.2 500.8,232.0 518.8,234.7 537.2,235.7 555.5,237.4 573.6,239.0 592.0,240.4 610.2,240.5"/>
<polygon fill="#00ffff" stroke="#00ffff" stroke-width="1" stroke-linejoin="round" points="161.53,102.35 158.50,104.10 155.47,102.35 155.47,98.85 158.50,97.10 161.53,98.85"/>
<polygon fill="#00ffff" stroke="#00ffff" stroke-width="1" stroke-linejoin="round" points="182.23,102.35 179.20,104.10 176.17,102.35 176.17,98.85 179.20,97.10 182.23,98.85"/>
<polygon fill="#00ffff" stroke="#00ffff" stroke-width="1" stroke-linejoin="round" points="200.73,102.35 197.70,104.10 194.67,102.35 194.67,98.85 197.70,97.10 200.73,98.85"/>
<polygon fill="#00ffff" stroke="#00ffff" stroke-width="1" stroke-linejoin="round" points="220.03,102.15 217.00,103.90 213.97,102.15 213.97,98.65 217.00,96.90 220.03,98.65"/>
<polygon fill="#00ffff" stroke="#00ffff" stroke-width="1" stroke-linejoin="round" points="237.63,102.05 234.60,103.80 231.57,102.05 231.57,98.55 234.60,96.80 237.63,98.55"/>
<polygon fill="#00ffff" stroke="#00ffff" stroke-width="1" stroke-linejoin="round" points="256.73,102.05 253.70,103.80 250.67,102.05 250.67,98.55 253.70,96.80 256.73,98.55"/>
<polygon fill="#00ffff" stroke="#00ffff" stroke-width="1" stroke-linejoin="round" points="274.63,104.05 271.60,105.80 268.57,104.05 268.57,100.55 271.60,98.80 274.63,100.55"/>
<polygon fill="#00ffff" stroke="#00ffff" stroke-width="1" stroke-linejoin="round" points="292.73,106.55 289.70,108.30 286.67,106.55 286.67,103.05 289.70,101.30 292.73,103.05"/>
<polygon fill="#00ffff" stroke="#00ffff" stroke-width="1" stroke-linejoin="round" points="310.83,112.65 307.80,114.40 304.77,112.65 304.77,109.15 307.80,107.40 310.83,109.15"/>
<polygon fill="#00ffff" stroke="#00ffff" stroke-width="1" stroke-linejoin="round" points="328.13,121.25 325.10,123.00 322.07,121.25 322.07,117.75 325.10,116.00 328.13,117.75"/>
<polygon fill="#00ffff" stroke="#00ffff" stroke-width="1" stroke-linejoin="round" points="345.23,129.45 342.20,131.20 339.17,129.45 339.17,125.95 342.20,124.20 345.23,125.95"/>
<polygon fill="#00ffff" stroke="#00ffff" stroke-width="1" stroke-linejoin="round" points="362.33,139.55 359.30,141.30 356.27,139.55 356.27,136.05 359.30,134.30 362.33,136.05"/>
<polygon fill="#00ffff" stroke="#00ffff" stroke-width="1" stroke-linejoin="round" points="380.03,155.15 377.00,156.90 373.97,155.15 373.97,151.65 377.00,149.90 380.03,151.65"/>
<polygon fill="#00ffff" stroke="#00ffff" stroke-width="1" stroke-linejoin="round" points="397.33,171.45 394.30,173.20 391.27,171.45 391.27,167.95 394.30,166.20 397.33,167.95"/>
<polygon fill="#00ffff" stroke="#00ffff" stroke-width="1" stroke-linejoin="round" points="414.63,183.75 411.60,185.50 408.57,183.75 408.57,180.25 411.60,178.50 414.63,180.25"/>
<polygon fill="#00ffff" stroke="#00ffff" stroke-width="1" stroke-linejoin="round" points="432.43,192.95 429.40,194.70 426.37,192.95 426.37,189.45 429.40,187.70 432.43,189.45"/>
<polygon fill="#00ffff" stroke="#00ffff" stroke-width="1" stroke-linejoin="round" points="450.13,203.65 447.10,205.40 444.07,203.65 444.07,200.15 447.10,198.40 450.13,200.15"/>
<polygon fill="#00ffff" stroke="#00ffff" stroke-width="1" stroke-linejoin="round" points="468.13,216.95 465.10,218.70 462.07,216.95 462.07,213.45 465.10,211.70 468.13,213.45"/>
<polygon fill="#00ffff" stroke="#00ffff" stroke-width="1" stroke-linejoin="round" points="485.73,227.95 482.70,229.70 479.67,227.95 479.67,224.45 482.70,222.70 485.73,224.45"/>
<polygon fill="#00ffff" stroke="#00ffff" stroke-width="1" stroke-linejoin="round" points="503.83,233.75 500.80,235.50 497.77,233.75 497.77,230.25 500.80,228.50 503.83,230.25"/>
<polygon fill="#00ffff" stroke="#00ffff" stroke-width="1" stroke-linejoin="round" points="521.83,236.45 518.80,238.20 515.77,236.45 515.77,232.95 518.80,231.20 521.83,232.95"/>
<polygon fill="#00ffff" stroke="#00ffff" stroke-width="1" stroke-linejoin="round" points="540.23,237.45 537.20,239.20 534.17,237.45 534.17,233.95 537.20,232.20 540.23,233.95"/>
<polygon fill="#00ffff" stroke="#00ffff" stroke-width="1" stroke-linejoin="round" points="558.53,239.15 555.50,240.90 552.47,239.15 552.47,235.65 555.50,233.90 558.53,235.65"/>
<polygon fill="#00ffff" stroke="#00ffff" stroke-width="1" stroke-linejoin="round" points="576.63,240.75 573.60,242.50 570.57,240.75 570.57,237.25 573.60,235.50 576.63,237.25"/>
<polygon fill="#00ffff" stroke="#00ffff" stroke-width="1" stroke-linejoin="round" points="595.03,242.15 592.00,243.90 588.97,242.15 588.97,238.65 592.00,236.90 595.03,238.65"/>
<polygon fill="#00ffff" stroke="#00ffff" stroke-width="1" stroke-linejoin="round" points="613.23,242.25 610.20,244.00 607.17,242.25 607.17,238.75 610.20,237.00 613.23,238.75"/>
<polyline fill="none" stroke="#00ffff" stroke-width="1.60" stroke-dasharray="10.2 8.5" stroke-dashoffset="3.11" points="158.50,100.30 159.14,100.30 159.78,100.30 160.42,100.30 161.06,100.31 161.70,100.31 162.34,100.31 162.98,100.31 163.62,100.31 164.26,100.31 164.90,100.31 165.54,100.31 166.18,100.31 166.82,100.31 167.46,100.31 168.10,100.31 168.74,100.31 169.38,100.31 170.02,100.31 170.66,100.32 171.30,100.32 171.94,100.32 172.58,100.32 173.22,100.32 173.86,100.32 174.50,100.32 175.14,100.32 175.78,100.33 176.42,100.33 177.06,100.33 177.70,100.33 178.34,100.33 178.98,100.33 179.62,100.34 180.26,100.34 180.90,100.34 181.54,100.34 182.18,100.35 182.82,100.35 183.46,100.35 184.10,100.35 184.74,100.36 185.38,100.36 186.02,100.36 186.66,100.36 187.30,100.37 187.94,100.37 188.58,100.37 189.22,100.38 189.86,100.38 190.50,100.39 191.14,100.39 191.78,100.39 192.42,100.40 193.06,100.40 193.70,100.41 194.34,100.41 194.98,100.42 195.62,100.42 196.26,100.43 196.90,100.43 197.54,100.44 198.18,100.45 198.82,100.45 199.46,100.46 200.10,100.46 200.74,100.47 201.38,100.48 202.02,100.49 202.66,100.49 203.30,100.50 203.94,100.51 204.58,100.52 205.22,100.52 205.86,100.53 206.50,100.54 207.14,100.55 207.78,100.56 208.42,100.57 209.06,100.58 209.70,100.59 210.34,100.60 210.98,100.61 211.62,100.62 212.26,100.64 212.90,100.65 213.54,100.66 214.18,100.67 214.82,100.68 215.46,100.70 216.10,100.71 216.74,100.73 217.38,100.74 218.02,100.75 218.66,100.77 219.30,100.79 219.94,100.80 220.58,100.82 221.22,100.83 221.86,100.85 222.50,100.87 223.14,100.89 223.78,100.91 224.42,100.92 225.06,100.94 225.70,100.96 226.34,100.98 226.98,101.00 227.62,101.03 228.26,101.05 228.90,101.07 229.54,101.09 230.18,101.12 230.82,101.14 231.46,101.17 232.10,101.19 232.74,101.22 233.38,101.24 234.02,101.27 234.66,101.30 235.30,101.32 235.94,101.35 236.58,101.38 237.22,101.41 237.86,101.44 238.50,101.47 239.14,101.51 239.78,101.54 240.42,101.57 241.06,101.61 241.70,101.64 242.34,101.68 242.98,101.71 243.62,101.75 244.26,101.79 244.90,101.83 245.54,101.87 246.18,101.91 246.82,101.95 247.46,101.99 248.10,102.03 248.74,102.08 249.38,102.12 250.02,102.16 250.66,102.21 251.30,102.26 251.94,102.31 252.58,102.35 253.22,102.40 253.86,102.46 254.50,102.51 255.14,102.56 255.78,102.61 256.42,102.67 257.06,102.72 257.70,102.78 258.34,102.84 258.98,102.90 259.62,102.96 260.26,103.02 260.90,103.08 261.54,103.14 262.18,103.21 262.82,103.27 263.46,103.34 264.10,103.41 264.74,103.48 265.38,103.55 266.02,103.62 266.66,103.69 267.30,103.77 267.94,103.84 268.58,103.92 269.22,104.00 269.86,104.08 270.50,104.16 271.14,104.24 271.78,104.32 272.42,104.41 273.06,104.49 273.70,104.58 274.34,104.67 274.98,104.76 275.62,104.85 276.26,104.95 276.90,105.04 277.54,105.14 278.18,105.24 278.82,105.34 279.46,105.44 280.10,105.54 280.74,105.64 281.38,105.75 282.02,105.86 282.66,105.97 283.30,106.08 283.94,106.19 284.58,106.31 285.22,106.42 285.86,106.54 286.50,106.66 287.14,106.78 287.78,106.91 288.42,107.03 289.06,107.16 289.70,107.29 290.34,107.42 290.98,107.55 291.62,107.69 292.26,107.83 292.90,107.97 293.54,108.11 294.18,108.25 294.82,108.40 295.46,108.54 296.10,108.69 296.74,108.85 297.38,109.00 298.02,109.16 298.66,109.31 299.30,109.47 299.94,109.64 300.58,109.80 301.22,109.97 301.86,110.14 302.50,110.31 303.14,110.49 303.78,110.66 304.42,110.84 305.06,111.03 305.70,111.21 306.34,111.40 306.98,111.59 307.62,111.78 308.26,111.97 308.90,112.17 309.54,112.37 310.18,112.57 310.82,112.78 311.46,112.99 312.10,113.20 312.74,113.41 313.38,113.63 314.02,113.85 314.66,114.07 315.30,114.29 315.94,114.52 316.58,114.75 317.22,114.98 317.86,115.22 318.50,115.46 319.14,115.70 319.78,115.95 320.42,116.20 321.06,116.45 321.70,116.70 322.34,116.96 322.98,117.22 323.62,117.49 324.26,117.76 324.90,118.03 325.54,118.30 326.18,118.58 326.82,118.86 327.46,119.15 328.10,119.43 328.74,119.73 329.38,120.02 330.02,120.32 330.66,120.62 331.30,120.93 331.94,121.24 332.58,121.55 333.22,121.87 333.86,122.19 334.50,122.51 335.14,122.84 335.78,123.17 336.42,123.51 337.06,123.85 337.70,124.19 338.34,124.54 338.98,124.89 339.62,125.25 340.26,125.61 340.90,125.97 341.54,126.34 342.18,126.72 342.82,127.09 343.46,127.47 344.10,127.86 344.74,128.25 345.38,128.64 346.02,129.04 346.66,129.44 347.30,129.85 347.94,130.26 348.58,130.68 349.22,131.10 349.86,131.52 350.50,131.95 351.14,132.39 351.78,132.83 352.42,133.27 353.06,133.72 353.70,134.18 354.34,134.64 354.98,135.10 355.62,135.57 356.26,136.04 356.90,136.52 357.54,137.00 358.18,137.49 358.82,137.99 359.46,138.49 360.10,138.99 360.74,139.50 361.38,140.02 362.02,140.54 362.66,141.06 363.30,141.59 363.94,142.13 364.58,142.67 365.22,143.22 365.86,143.77 366.50,144.33 367.14,144.90 367.78,145.47 368.42,146.05 369.06,146.63 369.70,147.22 370.34,147.81 370.98,148.41 371.62,149.02 372.26,149.63 372.90,150.25 373.54,150.87 374.18,151.50 374.82,152.14 375.46,152.78 376.10,153.43 376.74,154.08 377.38,154.75 378.02,155.41 378.66,156.09 379.30,156.77 379.94,157.46 380.58,158.15 381.22,158.86 381.86,159.56 382.50,160.28 383.14,161.00 383.78,161.73 384.42,162.46 385.06,163.21 385.70,163.96 386.34,164.71 386.98,165.48 387.62,166.25 388.26,167.02 388.90,167.81 389.54,168.60 390.18,169.40 390.82,170.21 391.46,171.02 392.10,171.85 392.74,172.68 393.38,173.51 394.02,174.36 394.66,175.21 395.30,176.07 395.94,176.94 396.58,177.82 397.22,178.70 397.86,179.60 398.50,180.50 399.14,181.41 399.78,182.32 400.42,183.25 401.06,184.18 401.70,185.12 402.34,186.07 402.98,187.03 403.62,188.00 404.26,188.97 404.90,189.96 405.54,190.95 406.18,191.95 406.82,192.96 407.46,193.98 408.10,195.01 408.74,196.04 409.38,197.09 410.02,198.14 410.66,199.21 411.30,200.28 411.94,201.36 412.58,202.45 413.22,203.55 413.86,204.67 414.50,205.78 415.14,206.91 415.78,208.05 416.42,209.20 417.06,210.36 417.70,211.53 418.34,212.70 418.98,213.89 419.62,215.09 420.26,216.30 420.90,217.51 421.54,218.74 422.18,219.98 422.82,221.23 423.46,222.49 424.10,223.76 424.74,225.03 425.38,226.32 426.02,227.62 426.66,228.94 427.30,230.26 427.94,231.59 428.58,232.93 429.22,234.29 429.86,235.65 430.50,237.03 431.14,238.41 431.78,239.81 432.42,241.22 433.06,242.64 433.70,244.07 434.34,245.52 434.98,246.97 435.62,248.44 436.26,249.92 436.90,251.41 437.54,252.91 438.18,254.42 438.82,255.95 439.46,257.48 440.10,259.03 440.74,260.60 441.38,262.17 442.02,263.75 442.66,265.35 443.30,266.96 443.94,268.59 444.58,270.22 445.22,271.87 445.86,273.53 446.50,275.20 447.14,276.89 447.78,278.59 448.42,280.30 449.06,282.03 449.70,283.76 450.34,285.51 450.98,287.28 451.62,289.06 452.26,290.85 452.90,292.65 453.54,294.47 454.18,296.30 454.82,298.15 455.46,300.01 456.10,301.88 456.74,303.77 457.38,305.67 458.02,307.58 458.66,309.51 459.30,311.46 459.94,313.42 460.58,315.39 461.22,317.37 461.86,319.38 462.50,321.39 463.14,323.42 463.78,325.47 464.42,327.53 465.06,329.60 465.70,331.69 466.34,333.80 466.98,335.92 467.62,338.05 468.26,340.21 468.90,342.37 469.54,344.55 470.18,346.75 470.82,348.96 471.46,351.19 472.10,353.44 472.74,355.70 473.38,357.98 474.02,360.27 474.66,362.58 475.30,364.90 475.94,367.24 476.58,369.60 477.22,371.98 477.86,374.37 478.50,376.77 479.14,379.20 479.78,381.64 480.42,384.10 481.06,386.57 481.70,389.07 482.34,391.58 482.98,394.10 483.62,396.65 484.26,399.21 484.90,401.79 485.54,404.38 486.18,407.00 486.82,409.63 487.46,412.28 488.10,414.95 488.74,417.64 489.38,420.34 490.02,423.06 490.66,425.80 491.30,428.56 491.94,431.34 492.58,434.14 493.22,436.95 493.86,439.79 494.50,442.64 495.14,445.51 495.78,448.41 496.42,451.32 497.06,454.25 497.70,457.20 498.34,460.16 498.98,463.15 499.62,466.16 500.26,469.19 500.90,472.23 501.54,475.30 502.18,478.39 502.82,481.50 503.46,484.63 504.10,487.77 504.74,490.94 505.38,494.13 506.02,497.34 506.66,500.57 507.30,503.82 507.94,507.10 508.58,510.39 509.22,513.70 509.86,517.04 510.50,520.40 511.14,523.77 511.78,527.17 512.42,530.60 513.06,534.04 513.70,537.50 514.34,540.99 514.98,544.50 515.62,548.03 516.26,551.59 516.90,555.16 517.54,558.76 518.18,562.38 518.82,566.02 519.46,569.69 520.10,573.38 520.74,577.09 521.38,580.83 522.02,584.59 522.66,588.37 523.30,592.17 523.94,596.00 524.58,599.85 525.22,603.73 525.86,607.63 526.50,611.55 527.14,615.50 527.78,619.47 528.42,623.47 529.06,627.49 529.70,631.54 530.34,635.61 530.98,639.70 531.62,643.82 532.26,647.96 532.90,652.13 533.54,656.33 534.18,660.55 534.82,664.79 535.46,669.06 536.10,673.36 536.74,677.68 537.38,682.03 538.02,686.40 538.66,690.80 539.30,695.23 539.94,699.68 540.58,704.16 541.22,708.66"/>
</g>
<g stroke="#000" stroke-width="1.6" fill="none" stroke-linecap="butt">
<rect x="123.30" y="67.45" width="608.00" height="607.55"/>
<path stroke-width="1.35" d="M155.30 67.45v8.30 M155.30 675.00v-8.30 M187.30 67.45v8.30 M187.30 675.00v-8.30 M219.30 67.45v8.30 M219.30 675.00v-8.30 M251.30 67.45v8.30 M251.30 675.00v-8.30 M283.30 67.45v16.00 M283.30 675.00v-16.00 M315.30 67.45v8.30 M315.30 675.00v-8.30 M347.30 67.45v8.30 M347.30 675.00v-8.30 M379.30 67.45v8.30 M379.30 675.00v-8.30 M411.30 67.45v8.30 M411.30 675.00v-8.30 M443.30 67.45v16.00 M443.30 675.00v-16.00 M475.30 67.45v8.30 M475.30 675.00v-8.30 M507.30 67.45v8.30 M507.30 675.00v-8.30 M539.30 67.45v8.30 M539.30 675.00v-8.30 M571.30 67.45v8.30 M571.30 675.00v-8.30 M603.30 67.45v16.00 M603.30 675.00v-16.00 M635.30 67.45v8.30 M635.30 675.00v-8.30 M667.30 67.45v8.30 M667.30 675.00v-8.30 M699.30 67.45v8.30 M699.30 675.00v-8.30 M123.30 100.30h16.00 M731.30 100.30h-16.00 M123.30 133.14h8.30 M731.30 133.14h-8.30 M123.30 165.98h8.30 M731.30 165.98h-8.30 M123.30 198.82h8.30 M731.30 198.82h-8.30 M123.30 231.66h8.30 M731.30 231.66h-8.30 M123.30 264.50h16.00 M731.30 264.50h-16.00 M123.30 297.34h8.30 M731.30 297.34h-8.30 M123.30 330.18h8.30 M731.30 330.18h-8.30 M123.30 363.02h8.30 M731.30 363.02h-8.30 M123.30 395.86h8.30 M731.30 395.86h-8.30 M123.30 428.70h16.00 M731.30 428.70h-16.00 M123.30 461.54h8.30 M731.30 461.54h-8.30 M123.30 494.38h8.30 M731.30 494.38h-8.30 M123.30 527.22h8.30 M731.30 527.22h-8.30 M123.30 560.06h8.30 M731.30 560.06h-8.30 M123.30 592.90h16.00 M731.30 592.90h-16.00 M123.30 625.74h8.30 M731.30 625.74h-8.30 M123.30 658.58h8.30 M731.30 658.58h-8.30"/>
</g>
<g opacity="0.999">
<text transform="translate(115.86,705.30) scale(1.131,1)" font-size="25.6" fill="#000" font-weight="normal" font-style="normal" stroke="#fff" stroke-width="0.25">0</text>
<text transform="translate(264.43,705.30) scale(1.163,1)" font-size="25.6" fill="#000" font-weight="normal" font-style="normal" stroke="#fff" stroke-width="0.25">0.5</text>
<text transform="translate(437.95,705.30) scale(0.798,1)" font-size="25.6" fill="#000" font-weight="normal" font-style="normal" stroke="#fff" stroke-width="0.25">1</text>
<text transform="translate(585.77,705.30) scale(1.078,1)" font-size="25.6" fill="#000" font-weight="normal" font-style="normal" stroke="#fff" stroke-width="0.25">1.5</text>
<text transform="translate(94.96,109.00) scale(1.123,1)" font-size="25.6" fill="#000" font-weight="normal" font-style="normal" stroke="#fff" stroke-width="0.25">0</text>
<text transform="translate(61.83,274.00) scale(1.148,1)" font-size="25.6" fill="#000" font-weight="normal" font-style="normal">−</text>
<text transform="translate(81.57,273.20) scale(0.832,1)" font-size="25.6" fill="#000" font-weight="normal" font-style="normal" stroke="#fff" stroke-width="0.25">1</text>
<text transform="translate(94.97,273.20) scale(1.114,1)" font-size="25.6" fill="#000" font-weight="normal" font-style="normal" stroke="#fff" stroke-width="0.25">0</text>
<text transform="translate(61.83,438.20) scale(1.148,1)" font-size="25.6" fill="#000" font-weight="normal" font-style="normal">−</text>
<text transform="translate(79.89,437.40) scale(1.168,1)" font-size="25.6" fill="#000" font-weight="normal" font-style="normal" stroke="#fff" stroke-width="0.25">2</text>
<text transform="translate(94.96,437.40) scale(1.123,1)" font-size="25.6" fill="#000" font-weight="normal" font-style="normal" stroke="#fff" stroke-width="0.25">0</text>
<text transform="translate(61.93,602.40) scale(1.148,1)" font-size="25.6" fill="#000" font-weight="normal" font-style="normal">−</text>
<text transform="translate(79.45,601.60) scale(1.183,1)" font-size="25.6" fill="#000" font-weight="normal" font-style="normal" stroke="#fff" stroke-width="0.25">3</text>
<text transform="translate(94.75,601.60) scale(1.140,1)" font-size="25.6" fill="#000" font-weight="normal" font-style="normal" stroke="#fff" stroke-width="0.25">0</text>
<text transform="translate(166.20,470.40) scale(1.184,1)" font-size="25.6" fill="#0000ff" font-weight="normal" font-style="normal" stroke="#fff" stroke-width="0.25">5780</text>
<text transform="translate(239.64,470.40) scale(0.863,1)" font-size="25.6" fill="#0000ff" font-weight="normal" font-style="normal" stroke="#fff" stroke-width="0.25">K</text>
<text transform="translate(269.39,471.20) scale(1.083,1)" font-size="25.6" fill="#0000ff" font-weight="normal" font-style="normal">−</text>
<text transform="translate(299.05,470.40) scale(1.126,1)" font-size="25.6" fill="#0000ff" font-weight="normal" font-style="normal" stroke="#fff" stroke-width="0.25">4.46</text>
<text transform="translate(167.19,519.80) scale(1.165,1)" font-size="25.6" fill="#ff0000" font-weight="normal" font-style="normal" stroke="#fff" stroke-width="0.25">6725</text>
<text transform="translate(239.64,519.80) scale(0.863,1)" font-size="25.6" fill="#ff0000" font-weight="normal" font-style="normal" stroke="#fff" stroke-width="0.25">K</text>
<text transform="translate(269.39,520.60) scale(1.083,1)" font-size="25.6" fill="#ff0000" font-weight="normal" font-style="normal">−</text>
<text transform="translate(299.05,519.80) scale(1.127,1)" font-size="25.6" fill="#ff0000" font-weight="normal" font-style="normal" stroke="#fff" stroke-width="0.25">4.25</text>
<text transform="translate(167.19,568.90) scale(1.166,1)" font-size="25.6" fill="#ff00ff" font-weight="normal" font-style="normal" stroke="#fff" stroke-width="0.25">6233</text>
<text transform="translate(239.64,568.90) scale(0.863,1)" font-size="25.6" fill="#ff00ff" font-weight="normal" font-style="normal" stroke="#fff" stroke-width="0.25">K</text>
<text transform="translate(281.47,569.70) scale(1.099,1)" font-size="25.6" fill="#ff00ff" font-weight="normal" font-style="normal">−</text>
<text transform="translate(311.03,568.90) scale(1.156,1)" font-size="25.6" fill="#ff00ff" font-weight="normal" font-style="normal" stroke="#fff" stroke-width="0.25">4.0</text>
<text transform="translate(166.21,618.30) scale(1.182,1)" font-size="25.6" fill="#00ffff" font-weight="normal" font-style="normal" stroke="#fff" stroke-width="0.25">5927</text>
<text transform="translate(226.65,618.30) scale(0.858,1)" font-size="25.6" fill="#00ffff" font-weight="normal" font-style="normal" stroke="#fff" stroke-width="0.25">K</text>
<text transform="translate(256.85,619.10) scale(1.123,1)" font-size="25.6" fill="#00ffff" font-weight="normal" font-style="normal">−</text>
<text transform="translate(286.72,618.30) scale(1.169,1)" font-size="25.6" fill="#00ffff" font-weight="normal" font-style="normal" stroke="#fff" stroke-width="0.25">4.0</text>
<text transform="translate(358.31,742.10) scale(1.117,1)" font-size="30" fill="#000" font-weight="normal" font-style="italic">ν</text>
<text transform="translate(375.18,750.70) scale(1.217,1)" font-size="18.2" fill="#000" font-weight="normal" font-style="normal" stroke="#000" stroke-width="0.70">patch</text>
<text transform="translate(443.91,742.10) scale(1.117,1)" font-size="30" fill="#000" font-weight="normal" font-style="italic">ν</text>
<text transform="translate(460.28,750.70) scale(1.150,1)" font-size="18.2" fill="#000" font-weight="normal" font-style="normal" stroke="#000" stroke-width="0.70">max</text>
<g transform="translate(33.50,458.30) rotate(-90)">
<text transform="translate(-0.70,0.00) scale(1.132,1)" font-size="30" fill="#000" font-weight="normal" font-style="italic">ν</text>
<text transform="translate(16.18,8.50) scale(1.235,1)" font-size="18.2" fill="#000" font-weight="normal" font-style="normal" stroke="#000" stroke-width="0.70">patch</text>
<text transform="translate(89.14,0.00) scale(1.069,1)" font-size="30" fill="#000" font-weight="normal" font-style="italic">ν</text>
<text transform="translate(104.97,8.50) scale(1.221,1)" font-size="18.2" fill="#000" font-weight="normal" font-style="normal" stroke="#000" stroke-width="0.70">nopatch</text>
<path d="M68.6 -8.3H83.8" stroke="#000" stroke-width="1.4"/>
</g>
</g>
<path d="M425.2 747.8L441.1 720.2" stroke="#000" stroke-width="1.4" fill="none"/>
</svg></body></html>
